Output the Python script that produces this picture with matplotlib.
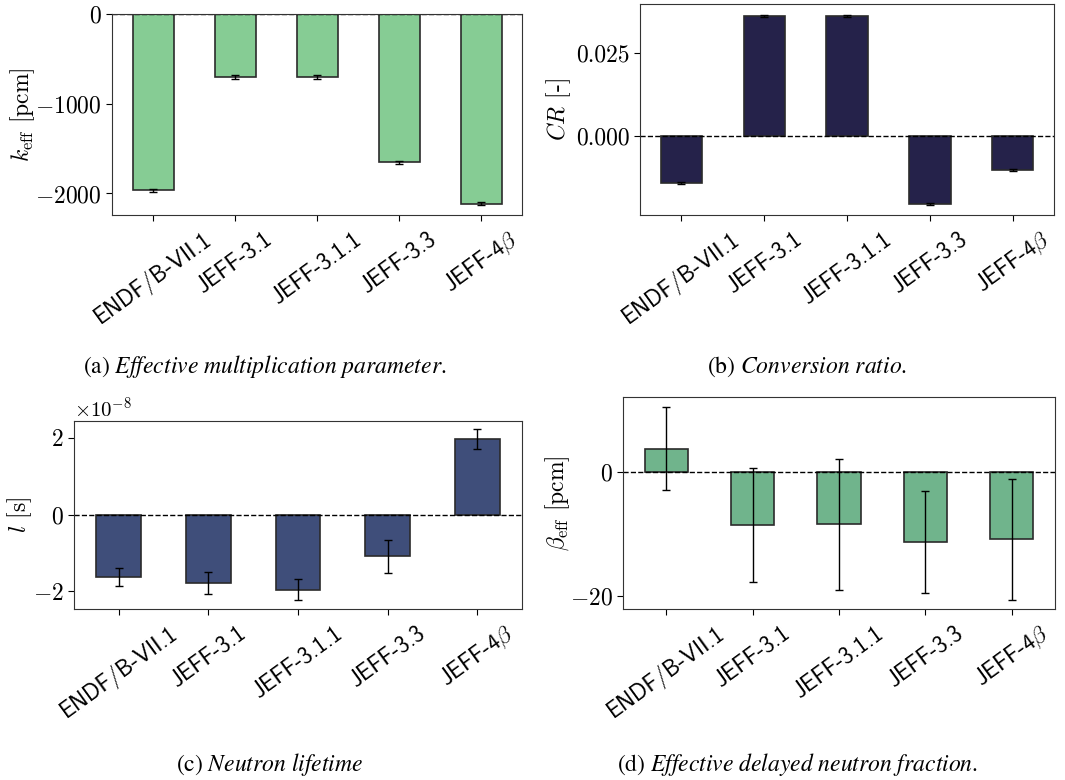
import os
import matplotlib
matplotlib.use("Agg")
import matplotlib.pyplot as plt
from matplotlib.font_manager import FontProperties

plt.rcParams["font.family"] = "serif"
plt.rcParams["font.serif"] = ["cmr10"]
plt.rcParams["mathtext.fontset"] = "cm"
plt.rcParams["axes.formatter.use_mathtext"] = True

libraries = ["ENDF/B-VII.1", "JEFF-3.1", "JEFF-3.1.1", "JEFF-3.3", r"JEFF-4$\beta$"]

# differences with respect to the reference library
keff = [-1966, -700, -707, -1654, -2112]
keff_err = [18, 25, 22, 15, 20]

cr = [-0.0140, 0.0360, 0.0360, -0.0204, -0.0102]
cr_err = [0.0003, 0.0003, 0.0004, 0.0003, 0.0003]

lifetime = [-1.63e-8, -1.79e-8, -1.96e-8, -1.08e-8, 1.98e-8]
lifetime_err = [0.23e-8, 0.29e-8, 0.27e-8, 0.43e-8, 0.26e-8]

beta = [3.7, -8.6, -8.5, -11.3, -10.9]
beta_err = [6.7, 9.2, 10.6, 8.2, 9.7]

W, H = 1065, 780
fig = plt.figure(figsize=(W / 100, H / 100), dpi=100)

cmss = FontProperties(fname=os.path.join(matplotlib.get_data_path(), "fonts/ttf/cmss10.ttf"), size=16.5)


def box(l, r, t, b):
    return [l / W, 1 - b / H, (r - l) / W, (b - t) / H]


def panel(rect, vals, errs, color, ylim, yticks, ylabel, label_x):
    ax = fig.add_axes(rect)
    x = range(len(vals))
    ax.bar(x, vals, width=0.5, color=color, edgecolor="#2b2b2b", linewidth=1.2,
           yerr=errs, capsize=3, error_kw=dict(ecolor="black", elinewidth=1, capthick=1))
    ax.axhline(0, color="black", linestyle="--", linewidth=1)
    ax.set_xlim(-0.5, 4.5)
    ax.set_ylim(*ylim)
    ax.set_yticks(yticks)
    ax.set_xticks(list(x))
    ax.set_xticklabels(libraries, rotation=36, ha="center", fontproperties=cmss)
    ax.tick_params(axis="y", labelsize=17, length=4)
    ax.tick_params(axis="x", length=4, pad=5)
    ax.set_ylabel(ylabel, fontsize=17)
    ax.yaxis.set_label_coords(label_x, 0.5)
    for s in ax.spines.values():
        s.set_color("#333333")
    return ax


panel(box(112, 522, 14, 215), keff, keff_err, "#86cc94", (-2240, 0),
      [-2000, -1000, 0], r"$k_{\mathrm{eff}}$ [pcm]", -0.183)

ax_b = panel(box(640, 1054, 4, 215), cr, cr_err, "#25224a", (-0.0237, 0.0396),
             [0.0, 0.025], "$CR$ [-]", -0.162)
ax_b.set_yticklabels(["0.000", "0.025"])

ax_c = panel(box(74, 522, 421, 609), lifetime, lifetime_err, "#3f4e7a", (-2.46e-8, 2.44e-8),
             [-2e-8, 0, 2e-8], "$l$ [s]", -0.089)
ax_c.yaxis.get_offset_text().set_fontsize(15)

panel(box(623, 1055, 397, 609), beta, beta_err, "#70b48c", (-22.1, 12.0),
      [-20, 0], r"$\beta_{\mathrm{eff}}$ [pcm]", -0.118)

captions = [
    (265, 367, r"$\mathrm{(a)}\ \mathit{Effective\ multiplication\ parameter.}$"),
    (807, 367, r"$\mathrm{(b)}\ \mathit{Conversion\ ratio.}$"),
    (270, 765, r"$\mathrm{(c)}\ \mathit{Neutron\ lifetime}$"),
    (798, 765, r"$\mathrm{(d)}\ \mathit{Effective\ delayed\ neutron\ fraction.}$"),
]
for cx, cy, txt in captions:
    fig.text(cx / W, 1 - cy / H, txt, ha="center", va="center", fontsize=17,
             math_fontfamily="stix")

fig.savefig("out.png", dpi=100)
